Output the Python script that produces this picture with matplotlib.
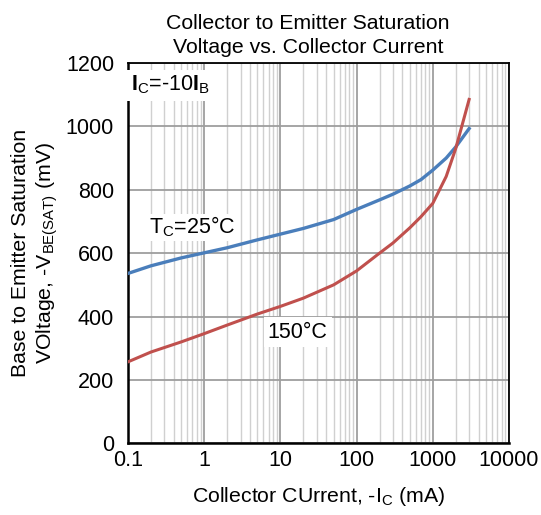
import matplotlib
matplotlib.use("Agg")
from matplotlib import pyplot as plt
from matplotlib.ticker import LogLocator, FixedLocator, NullFormatter

plt.rcParams['font.family'] = ['Liberation Sans', 'DejaVu Sans']
plt.rcParams['mathtext.fontset'] = 'custom'
plt.rcParams['mathtext.rm'] = 'Liberation Sans'
plt.rcParams['mathtext.bf'] = 'Liberation Sans:bold'

# collector current (mA) and base-emitter saturation voltage (mV)
current_ma = [0.1, 0.2, 0.5, 1, 2, 5, 10, 20, 50, 100, 200, 300, 500, 700, 1000, 1500, 2000, 3000]
vbe_25c = [536, 560, 585, 601, 617, 642, 660, 678, 706, 738, 768, 786, 812, 832, 862, 900, 935, 993]
vbe_150c = [257, 288, 320, 346, 373, 408, 432, 458, 500, 544, 600, 632, 680, 715, 757, 842, 930, 1085]

x_ticks = [0.1, 1, 10, 100, 1000, 10000]
x_tick_labels = ['0.1', '1', '10', '100', '1000', '10000']
y_ticks = [0, 200, 400, 600, 800, 1000, 1200]

fig = plt.figure(figsize=(5.41, 5.15), dpi=100)
ax = fig.add_axes([0.2366, 0.1392, 0.7042, 0.7385])

ax.set_xscale('log')
ax.set_xlim(0.1, 10000)
ax.set_ylim(0, 1200)

ax.xaxis.set_major_locator(FixedLocator(x_ticks))
ax.set_xticklabels(x_tick_labels)
ax.xaxis.set_minor_locator(LogLocator(base=10, subs=range(2, 10), numticks=20))
ax.xaxis.set_minor_formatter(NullFormatter())
ax.set_yticks(y_ticks)

ax.grid(which='major', color='#9e9e9e', linewidth=1.3)
ax.grid(which='minor', axis='x', color='#d0d0d0', linewidth=1.0)
ax.set_axisbelow(True)

ax.plot(current_ma, vbe_25c, color='#4a7ebb', linewidth=2.4, zorder=3)
ax.plot(current_ma, vbe_150c, color='#c0504d', linewidth=2.2, zorder=3)

for s in ax.spines.values():
    s.set_color('black')
    s.set_linewidth(1.3)
ax.spines['left'].set_linewidth(1.8)
ax.spines['bottom'].set_linewidth(1.8)

ax.tick_params(which='both', length=0, labelsize=15.5, colors='black')
ax.tick_params(axis='y', pad=10)
ax.tick_params(axis='x', pad=5)

ax.text(0.108, 1130, r'$\mathbf{I}_\mathrm{C}$=-10$\mathbf{I}_\mathrm{B}$',
        fontsize=15.5, ha='left', va='center', zorder=4,
        bbox=dict(facecolor='white', edgecolor='none', pad=3))
ax.text(0.19, 682, r'T$_\mathrm{C}$=25°C', fontsize=15.5, ha='left', va='center',
        bbox=dict(facecolor='white', edgecolor='none', pad=1), zorder=2.5)
ax.text(6.8, 351, '150°C', fontsize=15.5, ha='left', va='center', zorder=4,
        bbox=dict(facecolor='white', edgecolor='none', pad=3))

ax.set_title('Collector to Emitter Saturation\nVoltage vs. Collector Current',
             fontsize=15.3, pad=7, linespacing=1.38, x=0.472)
ax.set_xlabel(r'Collector CUrrent, -I$_\mathrm{C}$ (mA)', fontsize=15.3, labelpad=10)
ax.set_ylabel('Base to Emitter Saturation\n' + r'VOltage, -V$_\mathrm{BE(SAT)}$ (mV)',
              fontsize=15.3, labelpad=4, linespacing=1.25)

fig.savefig('out.png', dpi=100)
